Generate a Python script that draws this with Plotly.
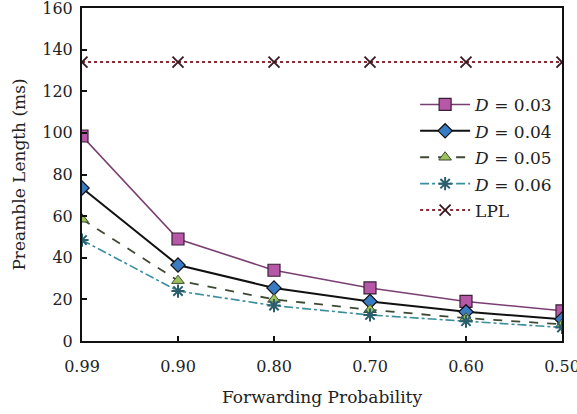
import plotly.graph_objects as go

categories = ["0.99", "0.90", "0.80", "0.70", "0.60", "0.50"]
d003 = [98.5, 49, 34, 25.5, 19, 14.5]
d004 = [73.5, 36.5, 25.5, 19, 14, 10.5]
d005 = [58.5, 29, 20, 15, 11, 8]
d006 = [48.5, 24, 17, 12.5, 9.5, 6.5]
lpl = [134, 134, 134, 134, 134, 134]
y_ticks = [0, 20, 40, 60, 80, 100, 120, 140, 160]
names = ["<i>D</i> = 0.03", "<i>D</i> = 0.04", "<i>D</i> = 0.05", "<i>D</i> = 0.06", "LPL"]

FONT = "DejaVu Serif"
TXT = "#222222"


def lg(name):
    return "<span style='font-size:17px'>" + name + "</span>"


fig = go.Figure()
fig.add_trace(go.Scatter(
    x=categories, y=d003, name=lg(names[0]), mode="lines+markers",
    line=dict(color="#7a3f72", width=1.6),
    marker=dict(symbol="square", size=12, color="#b657a8", line=dict(color="#3a2035", width=1.2))))
fig.add_trace(go.Scatter(
    x=categories, y=d004, name=lg(names[1]), mode="lines+markers",
    line=dict(color="#111111", width=2),
    marker=dict(symbol="diamond", size=11, color="#3a7cc4", line=dict(color="#111111", width=1.2))))
fig.add_trace(go.Scatter(
    x=categories, y=d005, name=lg(names[2]), mode="lines+markers",
    line=dict(color="#3e4a34", width=1.8, dash="dash"),
    marker=dict(symbol="triangle-up", size=11, color="#9cc25a", line=dict(color="#3e4a34", width=1))))
fig.add_trace(go.Scatter(
    x=categories, y=d006, name=lg(names[3]), mode="lines+markers",
    line=dict(color="#3a8d9c", width=1.6, dash="dashdot"),
    marker=dict(symbol="asterisk-open", size=11, color="#2a5e6c", line=dict(color="#2a5e6c", width=2))))
fig.add_trace(go.Scatter(
    x=categories, y=lpl, name=lg(names[4]), mode="lines+markers",
    line=dict(color="#8a2b38", width=2, dash="dot"),
    marker=dict(symbol="x-thin-open", size=11, color="#3a1a1e", line=dict(color="#3a1a1e", width=1.8))))

axis_common = dict(
    showline=True, linecolor="#111111", linewidth=2, mirror=True,
    ticks="inside", ticklen=5, tickwidth=1.5, tickcolor="#111111",
    showgrid=False, zeroline=False, automargin=False, ticklabeloverflow="allow",
    tickfont=dict(family=FONT, size=16, color=TXT),
)

fig.update_xaxes(type="category", range=[0, 5], categoryorder="array", categoryarray=categories,
                 ticklabelstandoff=10,
                 title=dict(text="Forwarding Probability", font=dict(family=FONT, size=17, color=TXT), standoff=16),
                 **axis_common)
fig.update_yaxes(range=[0, 160], tickvals=y_ticks, ticklabelstandoff=4,
                 title=dict(text="Preamble Length (ms)", font=dict(family=FONT, size=17, color=TXT), standoff=12),
                 **axis_common)

fig.update_layout(
    width=577, height=414,
    margin=dict(l=82, r=15, t=8, b=73),
    plot_bgcolor="white", paper_bgcolor="white",
    font=dict(family=FONT, size=16, color=TXT),
    legend=dict(x=0.694, y=0.765, xanchor="left", yanchor="top", bgcolor="rgba(0,0,0,0)",
                font=dict(family=FONT, size=18, color=TXT), tracegroupgap=0, itemwidth=50),
    showlegend=True,
)

fig.write_html("out.html", config={"displayModeBar": False},
               post_script="document.body.style.margin='0';")
